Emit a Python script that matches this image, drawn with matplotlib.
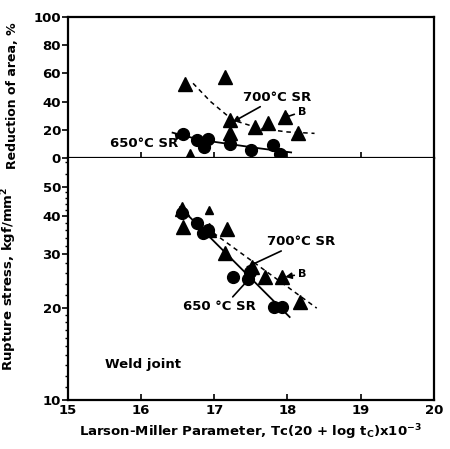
import matplotlib.pyplot as plt
from matplotlib.ticker import FixedLocator, NullFormatter

plt.rcParams['font.family'] = 'DejaVu Sans'
plt.rcParams['font.weight'] = 'bold'
plt.rcParams['axes.labelweight'] = 'bold'
plt.rcParams['mathtext.default'] = 'bf'

# reduction of area, %
ra_tri_x = [16.60, 17.14, 17.21, 17.21, 17.55, 17.73, 17.96, 18.14]
ra_tri_y = [52.5, 57.4, 27, 17.7, 22, 25, 29, 17.7]
ra_small_tri_x = [16.67]
ra_small_tri_y = [3.5]
ra_cir_x = [16.57, 16.76, 16.86, 16.91, 17.21, 17.50, 17.80, 17.90]
ra_cir_y = [17, 12.8, 7.8, 13.5, 10, 5.7, 9.2, 2.8]
ra_700_x = [16.71, 16.95, 17.25, 17.62, 18.0, 18.37]
ra_700_y = [53, 40, 27, 21, 18.5, 17.5]
ra_650_x = [16.43, 16.8, 17.2, 17.6, 18.05]
ra_650_y = [18, 13, 10, 7, 4]

# rupture stress, kgf/mm2
rs_tri_x = [16.56, 16.57, 16.93, 17.17, 17.14, 17.51, 17.69, 17.92, 18.17]
rs_tri_y = [42.3, 36.9, 36.1, 36.4, 30.3, 27.3, 25.3, 25.3, 21]
rs_small_tri_x = [16.93]
rs_small_tri_y = [42]
rs_cir_x = [16.56, 16.76, 16.84, 16.91, 17.26, 17.46, 17.49, 17.81, 17.92]
rs_cir_y = [41, 38, 35.3, 36, 25.3, 25, 26.3, 20.2, 20.2]
rs_650_x = [16.53, 18.03]
rs_650_y = [42.8, 18.7]
rs_700_x = [16.8, 18.4]
rs_700_y = [38, 20]

fig = plt.figure(figsize=(4.5, 4.49), dpi=100)
ax1 = fig.add_axes([0.151, 0.648, 0.813, 0.314])
ax2 = fig.add_axes([0.151, 0.109, 0.813, 0.539])

fs = 9.5
arrow = dict(arrowstyle='-|>', color='black', lw=1.2, mutation_scale=9)

# top panel
ax1.plot(ra_700_x, ra_700_y, '--', color='black', lw=1.1, dashes=(3, 2.5))
ax1.plot(ra_650_x, ra_650_y, '-', color='black', lw=1.3)
ax1.plot(ra_tri_x, ra_tri_y, '^', color='black', ms=9.5, clip_on=False)
ax1.plot(ra_small_tri_x, ra_small_tri_y, '^', color='black', ms=6, clip_on=False)
ax1.plot(ra_cir_x, ra_cir_y, 'o', color='black', ms=8.5, clip_on=False)
ax1.annotate('700°C SR', xy=(17.25, 25.5), xytext=(17.39, 43), fontsize=fs,
             arrowprops=dict(arrow, shrinkA=0, shrinkB=0), va='center')
ax1.annotate('B', xy=(17.92, 28), xytext=(18.15, 33), fontsize=8,
             arrowprops=dict(arrow, shrinkA=1, shrinkB=0), va='center')
ax1.annotate('650°C SR', xy=(16.57, 16), xytext=(15.57, 10.6), fontsize=fs,
             arrowprops=dict(arrow, shrinkA=0, shrinkB=2), va='center')
ax1.set_xlim(15, 20)
ax1.set_ylim(0, 100)
ax1.set_yticks([0, 20, 40, 60, 80, 100])
ax1.set_xticks([16, 17, 18, 19])
ax1.tick_params(axis='x', direction='in', length=4, width=1.2, labelbottom=False)
ax1.tick_params(axis='y', direction='out', length=4, width=1.2, labelsize=fs, pad=1)
ax1.set_ylabel('Reduction of area, %', fontsize=9)
ax1.yaxis.set_label_coords(-0.135, 0.44)

# bottom panel
ax2.set_yscale('log')
ax2.plot(rs_700_x, rs_700_y, '--', color='black', lw=1.1, dashes=(3, 2.5))
ax2.plot(rs_650_x, rs_650_y, '-', color='black', lw=1.3)
ax2.plot(rs_tri_x, rs_tri_y, '^', color='black', ms=9.5)
ax2.plot(rs_small_tri_x, rs_small_tri_y, '^', color='black', ms=6)
ax2.plot(rs_cir_x, rs_cir_y, 'o', color='black', ms=8.5)
ax2.annotate('700°C SR', xy=(17.45, 27.3), xytext=(17.72, 33), fontsize=fs,
             arrowprops=dict(arrow, arrowstyle='-', shrinkA=0, shrinkB=0), va='center')
ax2.annotate('B', xy=(17.97, 25.3), xytext=(18.15, 25.9), fontsize=8,
             arrowprops=dict(arrow, shrinkA=1, shrinkB=0), va='center')
ax2.annotate('650 °C SR', xy=(17.46, 24.7), xytext=(16.57, 20.3), fontsize=fs,
             arrowprops=dict(arrow, arrowstyle='-', shrinkA=0, shrinkB=0,
                             relpos=(0.65, 1.0)), va='center')
ax2.text(15.5, 13.1, 'Weld joint', fontsize=fs, va='center')
ax2.set_xlim(15, 20)
ax2.set_ylim(10, 62)
ax2.yaxis.set_major_locator(FixedLocator([10, 20, 30, 40, 50]))
ax2.set_yticklabels(['10', '20', '30', '40', '50'])
ax2.yaxis.set_minor_locator(FixedLocator(list(range(11, 20)) + list(range(22, 50, 2)) + [55, 60]))
ax2.yaxis.set_minor_formatter(NullFormatter())
ax2.set_xticks([15, 16, 17, 18, 19, 20])
ax2.tick_params(axis='x', direction='in', length=4, width=1.2, labelsize=fs, pad=3)
ax2.tick_params(axis='y', which='major', direction='out', length=4, width=1.2, labelsize=fs, pad=1)
ax2.tick_params(axis='y', which='minor', direction='out', length=2.5, width=1)
ax2.spines['top'].set_visible(False)
ax2.set_ylabel('Rupture stress, kgf/mm$^2$', fontsize=fs)
ax2.yaxis.set_label_coords(-0.135, 0.5)
ax2.set_xlabel(r'Larson-Miller Parameter, Tc(20 + log t$_\mathrm{C}$)x10$^{-3}$', fontsize=fs)

for ax in (ax1, ax2):
    for s in ax.spines.values():
        s.set_linewidth(1.6)

fig.savefig('out.png', dpi=100)
